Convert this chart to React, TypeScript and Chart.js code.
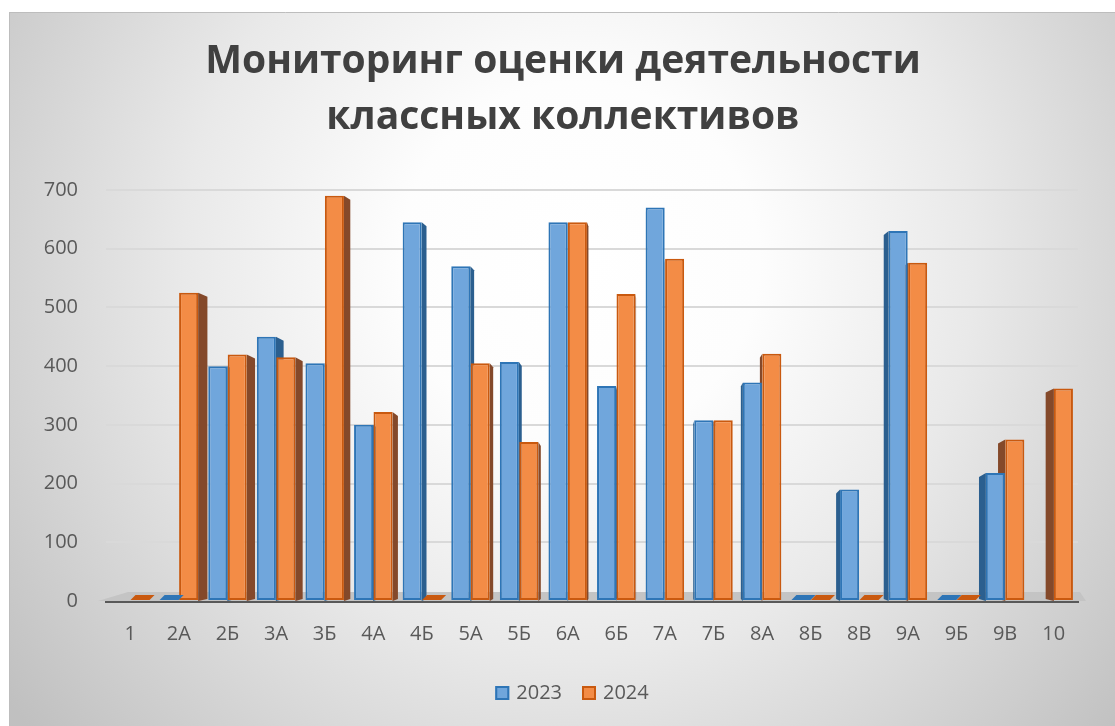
import React, { useEffect, useRef } from 'react';
import { Chart, registerables } from 'chart.js';

Chart.register(...registerables);

const categories = ['1', '2А', '2Б', '3А', '3Б', '4А', '4Б', '5А', '5Б', '6А', '6Б', '7А', '7Б', '8А', '8Б', '8В', '9А', '9Б', '9В', '10'];
const values2023 = [null, 0, 400, 450, 405, 300, 645, 570, 407, 645, 366, 670, 308, 372, 0, 190, 630, 0, 218, null];
const values2024 = [0, 525, 420, 415, 690, 322, 0, 405, 271, 645, 523, 583, 308, 421, 0, 0, 576, 0, 275, 362];
const seriesNames = ['2023', '2024'];
const titleLines = ['Мониторинг оценки деятельности', 'классных коллективов'];
const yMin = 0;
const yMax = 700;
const yStep = 100;

const W = 1106;
const H = 714;
const TEXT = '#595959';
const FONT = '"Open Sans", "Noto Sans", sans-serif';

const BLUE_FILL = '#70a6dc';
const BLUE_BORDER = '#2e75b6';
const BLUE_SIDE = '#2b5f8f';
const ORANGE_FILL = '#f38c46';
const ORANGE_BORDER = '#c9590f';
const ORANGE_SIDE = '#84492a';

const sideColors = [BLUE_SIDE, ORANGE_SIDE];

const backgroundPlugin = {
  id: 'bgGradient',
  beforeDraw(chart: any) {
    const ctx = chart.ctx;
    ctx.save();
    const g = ctx.createRadialGradient(570, 250, 0, 570, 250, 720);
    g.addColorStop(0, '#ffffff');
    g.addColorStop(0.25, '#fdfdfd');
    g.addColorStop(0.55, '#e9e9e9');
    g.addColorStop(1, '#c0c0c0');
    ctx.fillStyle = g;
    ctx.fillRect(0, 0, chart.width, chart.height);
    ctx.strokeStyle = '#bdbdbd';
    ctx.lineWidth = 1;
    ctx.beginPath();
    ctx.moveTo(0, 0.5);
    ctx.lineTo(chart.width, 0.5);
    ctx.moveTo(0.5, 0);
    ctx.lineTo(0.5, chart.height);
    ctx.stroke();
    ctx.restore();
  },
};

const titlePlugin = {
  id: 'customTitle',
  afterDraw(chart: any) {
    const ctx = chart.ctx;
    ctx.save();
    ctx.font = `bold 39px ${FONT}`;
    ctx.fillStyle = '#404040';
    ctx.textAlign = 'center';
    ctx.textBaseline = 'middle';
    titleLines.forEach((line, i) => {
      ctx.fillText(line, 554, 50 + i * 56);
    });
    ctx.restore();
  },
};

const depthPlugin = {
  id: 'depth3d',
  beforeDatasetsDraw(chart: any) {
    const ctx = chart.ctx;
    const area = chart.chartArea;
    const base = chart.scales.y.getPixelForValue(0);
    ctx.save();
    // floor
    ctx.fillStyle = '#c4c4c4';
    ctx.beginPath();
    ctx.moveTo(area.left - 8, base);
    ctx.lineTo(area.right + 8, base);
    ctx.lineTo(area.right + 2, base - 9);
    ctx.lineTo(area.left + 22, base - 9);
    ctx.closePath();
    ctx.fill();
    // side faces
    const vp = (area.left + area.right) / 2 + 60;
    chart.data.datasets.forEach((ds: any, di: number) => {
      const meta = chart.getDatasetMeta(di);
      meta.data.forEach((el: any, i: number) => {
        const v = ds.data[i];
        if (v === null || v === undefined || v === 0) return;
        const { x, y, width } = el.getProps(['x', 'y', 'width'], true);
        const d = (x - vp) * 0.02;
        const edge = d < 0 ? x + width / 2 : x - width / 2;
        const off = -d;
        ctx.fillStyle = sideColors[di];
        ctx.beginPath();
        ctx.moveTo(edge, y);
        ctx.lineTo(edge + off, y + 4);
        ctx.lineTo(edge + off, base - 2);
        ctx.lineTo(edge, base);
        ctx.closePath();
        ctx.fill();
      });
    });
    ctx.restore();
  },
  afterDatasetsDraw(chart: any) {
    const ctx = chart.ctx;
    const base = chart.scales.y.getPixelForValue(0);
    ctx.save();
    chart.data.datasets.forEach((ds: any, di: number) => {
      const meta = chart.getDatasetMeta(di);
      meta.data.forEach((el: any, i: number) => {
        if (ds.data[i] !== 0) return;
        const { x, width } = el.getProps(['x', 'width'], true);
        const l = x - width / 2;
        const r = x + width / 2;
        ctx.fillStyle = ds.borderColor;
        ctx.beginPath();
        ctx.moveTo(l, base - 1);
        ctx.lineTo(r, base - 1);
        ctx.lineTo(r + 5, base - 6);
        ctx.lineTo(l + 5, base - 6);
        ctx.closePath();
        ctx.fill();
      });
    });
    ctx.restore();
  },
};

const legendPlugin = {
  id: 'customLegend',
  afterDraw(chart: any) {
    const ctx = chart.ctx;
    ctx.save();
    ctx.font = `20px ${FONT}`;
    const box = 14;
    const gap = 7;
    const spacing = 20;
    const items = chart.data.datasets.map((ds: any) => ({
      label: ds.label,
      fill: ds.backgroundColor,
      stroke: ds.borderColor,
      w: ctx.measureText(ds.label).width,
    }));
    let total = 0;
    items.forEach((it: any, i: number) => {
      total += box + gap + it.w + (i > 0 ? spacing : 0);
    });
    let x = 563 - total / 2;
    const cy = 681;
    items.forEach((it: any) => {
      ctx.fillStyle = it.fill;
      ctx.fillRect(x, cy - box / 2, box, box);
      ctx.strokeStyle = it.stroke;
      ctx.lineWidth = 2;
      ctx.strokeRect(x + 1, cy - box / 2 + 1, box - 2, box - 2);
      ctx.fillStyle = TEXT;
      ctx.textBaseline = 'middle';
      ctx.textAlign = 'left';
      ctx.fillText(it.label, x + box + gap, cy);
      x += box + gap + it.w + spacing;
    });
    ctx.restore();
  },
};

export default function App() {
  const ref = useRef<HTMLCanvasElement | null>(null);

  useEffect(() => {
    if (!ref.current) return;
    const chart = new Chart(ref.current, {
      type: 'bar',
      data: {
        labels: categories,
        datasets: [
          {
            label: seriesNames[0],
            data: values2023,
            backgroundColor: BLUE_FILL,
            borderColor: BLUE_BORDER,
            borderWidth: 2,
            borderSkipped: false,
            categoryPercentage: 0.8,
            barPercentage: 0.98,
          },
          {
            label: seriesNames[1],
            data: values2024,
            backgroundColor: ORANGE_FILL,
            borderColor: ORANGE_BORDER,
            borderWidth: 2,
            borderSkipped: false,
            categoryPercentage: 0.8,
            barPercentage: 0.98,
          },
        ],
      },
      options: {
        responsive: false,
        animation: false,
        layout: { padding: { left: 0, right: 37, top: 178, bottom: 54 } },
        plugins: {
          legend: { display: false },
          tooltip: { enabled: false },
          title: { display: false },
        },
        scales: {
          x: {
            offset: true,
            grid: { display: false, drawTicks: false },
            border: { display: true, color: '#595959', width: 3 },
            ticks: {
              color: TEXT,
              font: { family: FONT, size: 20 },
              padding: 21,
              maxRotation: 0,
              autoSkip: false,
            },
            afterFit(scale: any) {
              scale.height = 71;
            },
          },
          y: {
            min: yMin,
            max: yMax,
            grid: { color: '#d9d9d9', lineWidth: 2, drawTicks: false },
            border: { display: false },
            ticks: {
              stepSize: yStep,
              color: TEXT,
              font: { family: FONT, size: 20 },
              padding: 28,
            },
            afterFit(scale: any) {
              scale.width = 97;
            },
          },
        },
      },
      plugins: [backgroundPlugin, depthPlugin, titlePlugin, legendPlugin],
    } as any);
    return () => chart.destroy();
  }, []);

  return (
    <div style={{ position: 'fixed', left: 9, top: 12, width: W, height: H }}>
      <canvas ref={ref} width={W} height={H} style={{ display: 'block', width: W, height: H }} />
    </div>
  );
}
